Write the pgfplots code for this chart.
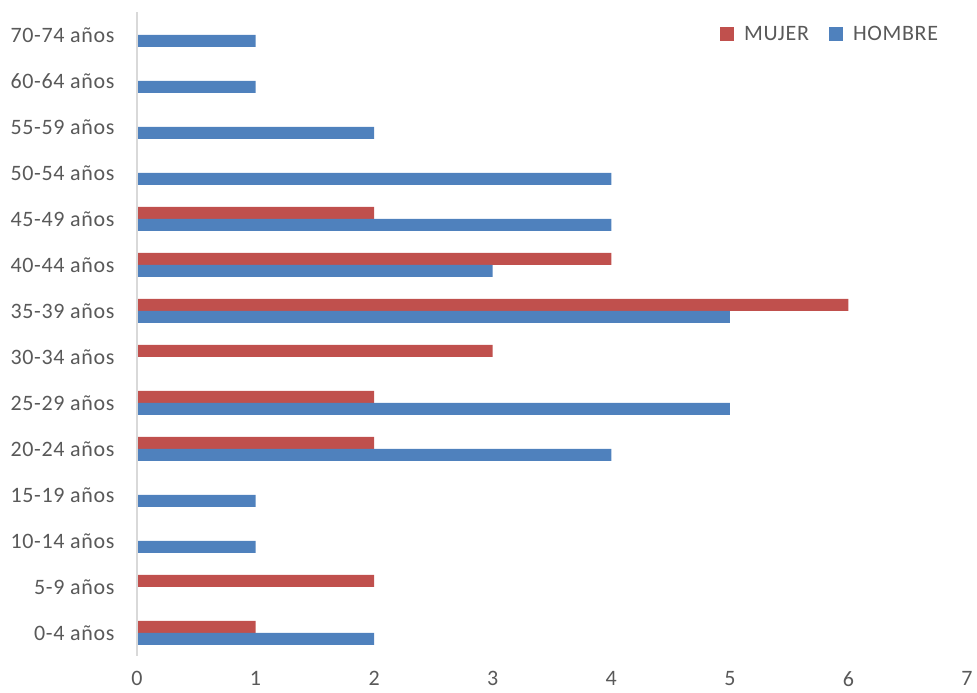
\documentclass[border=0pt]{standalone}
\usepackage{fontspec}
\setmainfont[LetterSpace=3]{Carlito}
\usepackage{pgfplots}
\usepackage{pgfplotstable}
\pgfplotsset{compat=1.18}
\definecolor{mujer}{HTML}{C0504D}
\definecolor{hombre}{HTML}{4F81BD}
\definecolor{txt}{HTML}{595959}
\definecolor{axisgray}{HTML}{D9D9D9}

% number of persons per age group
\pgfplotstableread{
idx mujer hombre
0   1 2
1   2 0
2   0 1
3   0 1
4   2 4
5   2 5
6   3 0
7   6 5
8   4 3
9   2 4
10  0 4
11  0 2
12  0 1
13  0 1
}\datatable

\begin{document}
\begin{tikzpicture}
\path[use as bounding box] (-137pt,-37pt) rectangle (840pt,656pt);
\begin{axis}[
  at={(0pt,0pt)}, anchor=south west,
  scale only axis, width=830pt, height=644pt,
  xmin=0, xmax=7, ymin=-0.5, ymax=13.5,
  xbar, bar width=12pt,
  axis line style={draw=none},
  major tick length=0pt,
  xtick={0,...,7}, ytick={0,...,13},
  yticklabels={0-4 años,5-9 años,10-14 años,15-19 años,20-24 años,25-29 años,30-34 años,35-39 años,40-44 años,45-49 años,50-54 años,55-59 años,60-64 años,70-74 años},
  tick label style={font=\fontsize{22}{26}\selectfont, text=txt},
  /pgf/number format/assume math mode=true,
  xticklabel style={yshift=-12pt},
  yticklabel style={xshift=-19pt},
  legend columns=2,
  legend style={draw=none, fill=none, at={(0.7024,0.9658)}, anchor=west,
    font=\fontsize{22}{26}\selectfont, text=txt, inner sep=0pt,
    /tikz/every odd column/.append style={column sep=8pt},
    /tikz/every even column/.append style={column sep=18pt}},
  legend image code/.code={\fill[#1] (0pt,-7pt) rectangle (14pt,7pt);},
  extra description/.code={\draw[axisgray, line width=1.5pt] (0,0) -- (0,1);},
]
\addplot[fill=mujer, draw=none, bar shift=6pt] table[x=mujer, y=idx] {\datatable};
\addplot[fill=hombre, draw=none, bar shift=-6pt] table[x=hombre, y=idx] {\datatable};
\legend{MUJER, HOMBRE}
\end{axis}
\end{tikzpicture}
\end{document}
